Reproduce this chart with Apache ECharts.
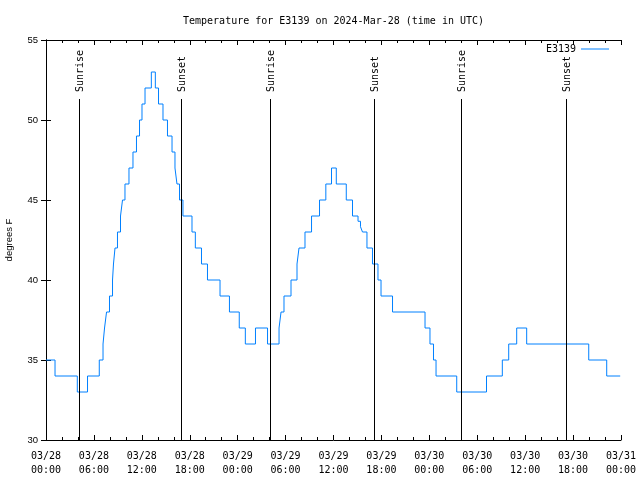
<!DOCTYPE html>
<html>
<head>
<meta charset="utf-8">
<script src="https://cdn.jsdelivr.net/npm/echarts@6/dist/echarts.min.js"></script>
<style>
html,body{margin:0;padding:0;background:#fff;}
#chart{width:640px;height:480px;}
</style>
</head>
<body>
<div id="chart"></div>
<script>
// Hours since 2024-03-28 00:00 UTC at which each temperature level begins
const changeHours = [0, 1.13, 3.92, 5.2, 6.67, 7.14, 7.33, 7.58, 7.95, 8.33, 8.45, 8.64, 8.95, 9.33, 9.58, 9.89, 10.39, 10.89, 11.33, 11.71, 12.02, 12.4, 13.19, 13.69, 14.09, 14.65, 15.21, 15.78, 16.15, 16.4, 16.72, 17.15, 18.28, 18.7, 19.47, 20.22, 21.79, 22.97, 24.2, 24.96, 26.23, 27.74, 29.18, 29.43, 29.8, 30.68, 31.43, 31.68, 32.43, 33.25, 34.25, 35.04, 35.75, 36.35, 37.6, 38.38, 39.07, 39.38, 39.63, 40.19, 40.88, 41.57, 41.95, 43.39, 47.46, 48.08, 48.52, 48.84, 51.43, 55.16, 57.14, 57.94, 58.94, 60.19, 67.96, 70.21, 71.9];
const tempsF = [35, 34, 33, 34, 35, 36, 37, 38, 39, 40, 41, 42, 43, 44, 45, 46, 47, 48, 49, 50, 51, 52, 53, 52, 51, 50, 49, 48, 47, 46, 45, 44, 43, 42, 41, 40, 39, 38, 37, 36, 37, 36, 37, 38, 39, 40, 41, 42, 43, 44, 45, 46, 47, 46, 45, 44, 43.67, 43.33, 43, 42, 41, 40, 39, 38, 37, 36, 35, 34, 33, 34, 35, 36, 37, 36, 35, 34, 34];
const sunHours = [4.17, 16.94, 28.09, 41.11, 52.0, 65.15];
const sunLabels = ['Sunrise', 'Sunset', 'Sunrise', 'Sunset', 'Sunrise', 'Sunset'];
const yTicks = [30, 35, 40, 45, 50, 55];
const seriesName = 'E3139';
const titleText = 'Temperature for E3139 on 2024-Mar-28 (time in UTC)';

const mono = 'DejaVu Sans Mono';
const seriesData = changeHours.map((h, i) => [h, tempsF[i]]);
const sunData = sunHours.map((h, i) => [h, 30, sunLabels[i]]);

function pad(n) { return (n < 10 ? '0' : '') + n; }
function fmtX(v) {
  const day = 28 + Math.floor(v / 24);
  const hh = Math.round(v % 24);
  return '03/' + pad(day) + '\n' + pad(hh) + ':00';
}

const chart = echarts.init(document.getElementById('chart'));
const axisLine = { show: true, lineStyle: { color: '#000', width: 1 } };
chart.setOption({
  animation: false,
  backgroundColor: '#fff',
  title: {
    text: titleText, left: 183, top: 16, padding: 0,
    textStyle: { fontFamily: mono, fontSize: 10, fontWeight: 'normal', color: '#000' }
  },
  legend: {
    data: [{ name: seriesName, icon: 'rect' }], right: 31, top: 44, align: 'right', padding: 0,
    itemWidth: 28, itemHeight: 1, itemGap: 6,
    textStyle: { fontFamily: mono, fontSize: 10, color: '#000' }
  },
  grid: { left: 46, right: 19, top: 40, bottom: 40, containLabel: false, outerBoundsMode: 'none' },
  xAxis: [{
    type: 'value', min: 0, max: 72, interval: 6,
    axisLine: axisLine,
    axisTick: { show: true, inside: true, length: 5, lineStyle: { color: '#000' } },
    minorTick: { show: true, splitNumber: 3, length: 3, lineStyle: { color: '#000' } },
    splitLine: { show: false },
    axisLabel: { formatter: fmtX, fontFamily: mono, fontSize: 10, color: '#000', margin: 9, lineHeight: 14 }
  }, {
    type: 'value', position: 'top', min: 0, max: 72, interval: 6,
    axisLine: axisLine,
    axisTick: { show: true, inside: true, length: 5, lineStyle: { color: '#000' } },
    minorTick: { show: true, splitNumber: 3, length: 3, lineStyle: { color: '#000' } },
    splitLine: { show: false }, axisLabel: { show: false }
  }],
  yAxis: [{
    type: 'value', min: 30, max: 55, interval: 5,
    name: 'degrees F', nameLocation: 'middle', nameGap: 32,
    nameTextStyle: { fontFamily: 'Liberation Sans', fontSize: 9.5, color: '#000' },
    axisLine: axisLine,
    axisTick: { show: true, inside: true, length: 5, lineStyle: { color: '#000' } },
    splitLine: { show: false },
    axisLabel: { fontFamily: 'Liberation Sans', fontSize: 9.5, color: '#000', margin: 8,
      formatter: v => yTicks.indexOf(v) >= 0 ? String(v) : '' }
  }, {
    type: 'value', position: 'right', min: 30, max: 55, interval: 5,
    axisLine: axisLine,
    axisTick: { show: true, inside: true, length: 5, lineStyle: { color: '#000' } },
    splitLine: { show: false }, axisLabel: { show: false }
  }],
  series: [{
    name: seriesName, type: 'line', step: 'end',
    data: seriesData, showSymbol: false, symbol: 'none',
    lineStyle: { color: '#0080ff', width: 1 }, itemStyle: { color: '#0080ff' },
    silent: true, z: 3
  }, {
    type: 'custom', data: sunData, silent: true, z: 4,
    renderItem: function (params, api) {
      const p = api.coord([api.value(0), 30]);
      const x = Math.round(p[0]) + 0.5;
      const top = params.coordSys.y;
      const label = sunLabels[params.dataIndex];
      return {
        type: 'group',
        children: [{
          type: 'line',
          shape: { x1: x, y1: top + 59, x2: x, y2: p[1] },
          style: { stroke: '#000', lineWidth: 1 }
        }, {
          type: 'text', x: x + 1, y: top + 52, rotation: Math.PI / 2,
          style: { text: label, font: '10px ' + mono, fill: '#000', align: 'left', verticalAlign: 'middle' }
        }]
      };
    }
  }]
});
</script>
</body>
</html>
